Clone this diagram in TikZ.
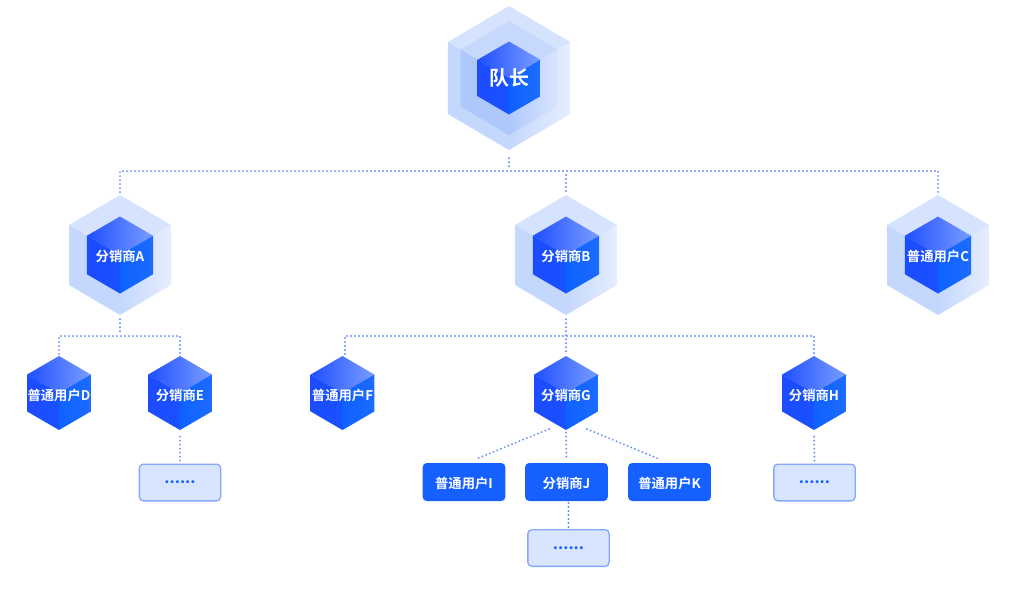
\documentclass[tikz,border=0pt]{standalone}
\usepackage{fontspec}
\setmainfont{Noto Sans CJK SC}[BoldFont={Noto Sans CJK SC Bold}]
\usetikzlibrary{calc}

\definecolor{linkblue}{HTML}{6C8FF3}
\definecolor{cubetop}{HTML}{1F4FFF}
\definecolor{cubeshine}{HTML}{7A9DFF}
\definecolor{cubeleft}{HTML}{1C4CFF}
\definecolor{cuberight}{HTML}{0D62FF}
\definecolor{boxblue}{HTML}{1660FF}
\definecolor{softfill}{HTML}{D9E5FE}
\definecolor{softline}{HTML}{85A8FA}
\definecolor{outertop}{HTML}{D6E3FE}
\definecolor{outerleft}{HTML}{C4D7FC}
\definecolor{outerright}{HTML}{E6EEFE}
\definecolor{innertop}{HTML}{C6D8FC}
\definecolor{innerleft}{HTML}{AFC8FB}
\definecolor{innerright}{HTML}{D9E5FE}

\tikzset{
  linkdot/.style={linkblue,line width=1.6pt,line cap=round,dash pattern=on 0pt off 3pt},
  hexbig/.style={minimum width=93pt,minimum height=108pt,inner sep=0pt,text=white,font=\bfseries\fontsize{15}{15}\selectfont},
  hexmid/.style={minimum width=76.5pt,minimum height=90pt,inner sep=0pt,text=white,text height=10.5pt,text depth=1.5pt,font=\bfseries\fontsize{10}{10}\selectfont},
  hexsmall/.style={minimum width=48pt,minimum height=55.5pt,inner sep=0pt,text=white,text height=10.5pt,text depth=1.5pt,font=\bfseries\fontsize{10}{10}\selectfont},
  userbox/.style={rectangle,rounded corners=3pt,fill=boxblue,minimum width=62pt,minimum height=28.5pt,inner sep=0pt,text=white,text height=11pt,text depth=1.5pt,font=\bfseries\fontsize{10}{10}\selectfont},
  morebox/.style={rectangle,rounded corners=3pt,draw=softline,line width=1pt,fill=softfill,minimum width=61pt,minimum height=27.5pt,inner sep=0pt,text=boxblue,font=\bfseries\fontsize{12}{12}\selectfont},
}

% x, y, radius
\newcommand{\hexcube}[3]{
  \begin{scope}[shift={(#1,#2)},scale=#3]
    \shade[left color=cubetop,right color=cubeshine] (0,-1) -- (0.86,-0.5) -- (0,0) -- (-0.86,-0.5) -- cycle;
    \shade[left color=cubeleft,right color=cubeleft!80!cuberight] (-0.86,-0.5) -- (0,0) -- (0,1) -- (-0.86,0.5) -- cycle;
    \shade[left color=cuberight,right color=cuberight!85!cubeshine] (0.86,-0.5) -- (0,0) -- (0,1) -- (0.86,0.5) -- cycle;
  \end{scope}
}
% x, y, radius, top, left, right
\newcommand{\hexhalo}[6]{
  \begin{scope}[shift={(#1,#2)},scale=#3]
    \fill[#4] (0,-1) -- (0.85,-0.5) -- (0,0) -- (-0.85,-0.5) -- cycle;
    \fill[#5] (-0.85,-0.5) -- (0,0) -- (0,1) -- (-0.85,0.5) -- cycle;
    \shade[left color=#5,right color=#6] (0.85,-0.5) -- (0,0) -- (0,1) -- (0.85,0.5) -- cycle;
  \end{scope}
}

\begin{document}
\begin{tikzpicture}[x=0.75pt,y=-0.75pt]
  \useasboundingbox (0,0) rectangle (1024,593);

  \hexhalo{509}{78}{72}{outertop}{outerleft}{outerright}
  \hexhalo{509}{78}{57}{innertop}{innerleft}{innerright}
  \hexcube{509}{78}{36.5}
  \hexhalo{120}{255}{60}{outertop}{outerleft}{outerright}
  \hexcube{120}{255}{38.5}
  \hexhalo{566}{255}{60}{outertop}{outerleft}{outerright}
  \hexcube{566}{255}{38.5}
  \hexhalo{938}{255}{60}{outertop}{outerleft}{outerright}
  \hexcube{938}{255}{38.5}
  \hexcube{59}{393}{37}
  \hexcube{180}{393}{37}
  \hexcube{342.5}{393}{37}
  \hexcube{566}{393}{37}
  \hexcube{814}{393}{37}

  \node[hexbig] (captain) at (509,78) {队长};
  \node[hexmid] (distA) at (120,255) {分销商A};
  \node[hexmid] (distB) at (566,255) {分销商B};
  \node[hexmid] (userC) at (938,255) {普通用户C};
  \node[hexsmall] (userD) at (59,394) {普通用户D};
  \node[hexsmall] (distE) at (180,394) {分销商E};
  \node[hexsmall] (userF) at (342.5,394) {普通用户F};
  \node[hexsmall] (distG) at (566,394) {分销商G};
  \node[hexsmall] (distH) at (814,394) {分销商H};
  \node[userbox] (userI) at (464,482) {普通用户I};
  \node[userbox] (distJ) at (566.5,482) {分销商J};
  \node[userbox] (userK) at (669.5,482) {普通用户K};
  \node[morebox] (moreE) at (180,482.5) {......};
  \node[morebox] (moreH) at (814.5,482.5) {......};
  \node[morebox] (moreJ) at (568.5,548) {......};

  \coordinate (topbus) at (509,171);
  \coordinate (busA) at (120,336);
  \coordinate (busB) at (566,336);
  \coordinate (dropF) at (345,354);
  \coordinate (fromG1) at (549,429);
  \coordinate (toI) at (476,459);
  \coordinate (fromG2) at (587,429);
  \coordinate (toK) at (659,459);
  \coordinate (fromJ) at (568.5,503);

  \draw[linkdot,shorten <=6pt,shorten >=3pt] (captain.south) -- (topbus);
  \draw[linkdot,shorten <=2pt,shorten >=2pt] (distA.north) |- (topbus) -| (userC.north);
  \draw[linkdot,shorten <=3pt,shorten >=2pt] (topbus -| distB) -- (distB.north);

  \draw[linkdot,shorten <=3pt,shorten >=3pt] (distA.south) -- (busA);
  \draw[linkdot,shorten <=2pt,shorten >=2pt] (userD.north) |- (busA) -| (distE.north);
  \draw[linkdot,shorten <=3pt,shorten >=2pt] (distB.south) -- (distG.north);
  \draw[linkdot] (dropF) |- (busB) -| ($(distH.north)+(0,-2)$);

  \draw[linkdot,shorten <=4pt,shorten >=1pt] (distE.south) -- (moreE.north);
  \draw[linkdot,shorten <=4pt,shorten >=1pt] (distH.south) -- (moreH.north);
  \draw[linkdot] (fromG1) -- (toI);
  \draw[linkdot,shorten <=1pt,shorten >=2pt] (distG.south) -- (distJ.north);
  \draw[linkdot] (fromG2) -- (toK);
  \draw[linkdot,shorten >=1pt] (fromJ) -- (moreJ.north);
\end{tikzpicture}
\end{document}
